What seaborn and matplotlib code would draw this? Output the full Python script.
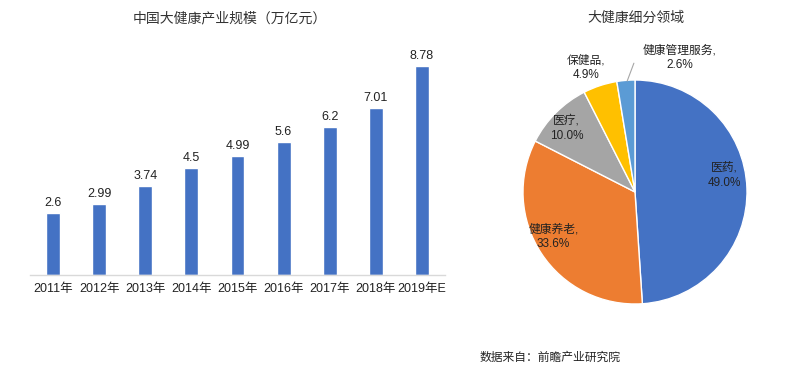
import matplotlib
matplotlib.use("Agg")
import matplotlib.pyplot as plt
import seaborn as sns
import pandas as pd

# data
years = ["2011年", "2012年", "2013年", "2014年", "2015年", "2016年", "2017年", "2018年", "2019年E"]
scale = [2.6, 2.99, 3.74, 4.5, 4.99, 5.6, 6.2, 7.01, 8.78]
scale_labels = ["2.6", "2.99", "3.74", "4.5", "4.99", "5.6", "6.2", "7.01", "8.78"]

segments = ["医药", "健康养老", "医疗", "保健品", "健康管理服务"]
shares = [49.0, 33.6, 10.0, 4.9, 2.6]
seg_colors = ["#4472C4", "#ED7D31", "#A5A5A5", "#FFC000", "#5B9BD5"]

sns.set_theme(style="white")
plt.rcParams["font.family"] = ["Liberation Sans", "Noto Sans CJK SC", "DejaVu Sans"]

fig = plt.figure(figsize=(8, 3.8), dpi=100)

# bar chart
ax = fig.add_axes([30 / 800, 1 - 275 / 380, 415 / 800, 235 / 380])
df = pd.DataFrame({"year": years, "scale": scale})
sns.barplot(data=df, x="year", y="scale", color="#4472C4", width=0.3,
            saturation=1, ax=ax)
ax.bar_label(ax.containers[0], labels=scale_labels, padding=3,
             fontsize=9, color="#222222")
ax.set_ylim(0, 9.87)
ax.set_xlim(-0.5, len(years) - 0.5)
ax.set_yticks([])
ax.set_xlabel("")
ax.set_ylabel("")
ax.tick_params(axis="x", length=0, labelsize=9, colors="#222222", pad=6)
for s in ["top", "right", "left"]:
    ax.spines[s].set_visible(False)
ax.spines["bottom"].set_color("#D9D9D9")
ax.spines["bottom"].set_linewidth(1)
fig.text(230 / 800, 1 - 18 / 380, "中国大健康产业规模（万亿元）", ha="center",
         va="center", fontsize=10, color="#333333")

# pie chart
pax = fig.add_axes([523 / 800, 1 - 304 / 380, 224 / 800, 224 / 380])
pax.pie(shares, colors=seg_colors, startangle=90, counterclock=False,
        radius=1, wedgeprops=dict(edgecolor="white", linewidth=1))
pax.set_xlim(-1, 1)
pax.set_ylim(-1, 1)
pax.set_aspect("equal")
pax.axis("off")

label_pos = [(0.80, 0.15), (-0.73, -0.40), (-0.61, 0.57), (-0.44, 1.11), (0.40, 1.20)]
for name, val, (lx, ly) in zip(segments, shares, label_pos):
    pax.text(lx, ly, f"{name},\n{val:.1f}%", ha="center", va="center",
             fontsize=8.5, color="#222222", linespacing=1.3, clip_on=False)
pax.plot([-0.07, -0.01], [0.99, 1.15], color="#A6A6A6", lw=0.8, clip_on=False)

fig.text(636 / 800, 1 - 18 / 380, "大健康细分领域", ha="center", va="center",
         fontsize=10, color="#333333")
fig.text(480 / 800, 1 - 358 / 380, "数据来自：前瞻产业研究院", ha="left",
         va="center", fontsize=8.5, color="#222222")

fig.savefig("out.png", dpi=100)
